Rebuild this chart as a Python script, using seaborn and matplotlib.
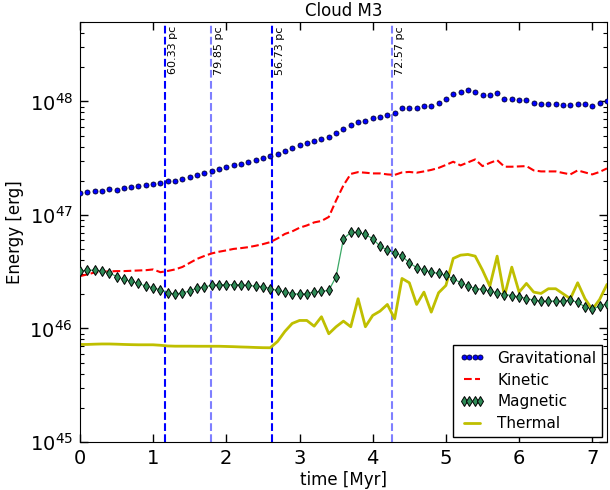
import numpy as np
import pandas as pd
import matplotlib
matplotlib.use("Agg")
import matplotlib.pyplot as plt
import seaborn as sns

# ---- data ----
time_myr = np.round(np.arange(73) * 0.1, 1)

grav_1e47 = [1.55, 1.59, 1.61, 1.64, 1.68, 1.67, 1.71, 1.76, 1.79, 1.85,
             1.88, 1.91, 1.97, 2.00, 2.06, 2.14, 2.23, 2.32, 2.42, 2.52,
             2.64, 2.75, 2.83, 2.92, 3.04, 3.17, 3.30, 3.46, 3.65, 3.91,
             4.10, 4.33, 4.51, 4.69, 4.82, 5.23, 5.67, 6.15, 6.63, 6.76,
             7.18, 7.33, 7.53, 7.95, 8.73, 8.80, 8.80, 9.17, 9.17, 9.66,
             10.41, 11.53, 12.00, 12.50, 12.07, 11.46, 11.46, 11.83, 10.56, 10.56,
             10.35, 10.20, 9.74, 9.54, 9.54, 9.41, 9.28, 9.28, 9.54, 9.41,
             9.17, 9.74, 10.10]

kin_1e46 = [2.89, 2.99, 3.11, 3.16, 3.18, 3.20, 3.20, 3.22, 3.24, 3.26,
            3.31, 3.13, 3.21, 3.31, 3.48, 3.78, 4.10, 4.35, 4.58, 4.74,
            4.87, 5.02, 5.10, 5.20, 5.35, 5.53, 5.76, 6.21, 6.80, 7.16,
            7.71, 8.08, 8.59, 8.85, 9.60, 13.42, 18.20, 22.97, 23.83, 23.54,
            23.21, 23.21, 22.75, 22.52, 23.68, 23.92, 23.54, 24.17, 24.92, 25.95,
            27.57, 29.42, 27.30, 29.01, 30.83, 26.92, 28.71, 30.39, 26.59, 26.59,
            26.75, 26.92, 24.67, 24.17, 24.17, 24.17, 23.44, 22.75, 24.67, 23.68,
            22.75, 23.92, 25.69]

mag_1e46 = [3.20, 3.26, 3.26, 3.20, 3.10, 2.86, 2.70, 2.60, 2.49, 2.36,
            2.28, 2.18, 2.06, 2.01, 2.06, 2.13, 2.27, 2.33, 2.39, 2.43,
            2.43, 2.43, 2.43, 2.39, 2.36, 2.33, 2.24, 2.16, 2.09, 2.03,
            2.00, 2.03, 2.09, 2.13, 2.16, 2.86, 6.17, 7.01, 7.01, 6.73,
            6.17, 5.31, 4.90, 4.65, 4.34, 3.79, 3.43, 3.26, 3.13, 3.05,
            2.93, 2.74, 2.53, 2.36, 2.24, 2.21, 2.13, 2.06, 1.99, 1.95,
            1.90, 1.83, 1.78, 1.74, 1.74, 1.74, 1.74, 1.78, 1.70, 1.55,
            1.47, 1.58, 1.64]

therm_1e45 = [7.23, 7.23, 7.27, 7.30, 7.30, 7.27, 7.23, 7.20, 7.18, 7.18,
              7.18, 7.11, 7.01, 6.98, 6.98, 6.98, 6.97, 6.97, 6.97, 6.97,
              6.94, 6.91, 6.87, 6.84, 6.80, 6.77, 6.76, 7.68, 9.41, 11.07,
              11.76, 11.76, 10.47, 12.68, 8.98, 10.35, 11.60, 10.35, 18.27, 10.35,
              13.02, 14.21, 16.27, 12.17, 27.57, 25.27, 16.27, 20.89, 13.92, 20.63,
              23.92, 41.38, 44.23, 44.87, 43.35, 32.64, 23.59, 43.35, 19.26, 34.68,
              20.89, 24.92, 20.89, 20.34, 22.38, 22.38, 20.22, 18.27, 25.27, 18.27,
              14.71, 18.01, 24.42]

vline_times = [1.16, 1.79, 2.62, 4.26]
vline_labels = ["60.33 pc", "79.85 pc", "56.73 pc", "72.57 pc"]
vline_alpha = [1.0, 0.5, 1.0, 0.5]

series_names = ["Gravitational", "Kinetic", "Magnetic", "Thermal"]

df = pd.DataFrame({
    "time": time_myr,
    "Gravitational": np.array(grav_1e47) * 1e47,
    "Kinetic": np.array(kin_1e46) * 1e46,
    "Magnetic": np.array(mag_1e46) * 1e46,
    "Thermal": np.array(therm_1e45) * 1e45,
})

# ---- style ----
sns.set_style("ticks", rc={
    "xtick.direction": "in", "ytick.direction": "in",
    "xtick.top": True, "ytick.right": True,
    "axes.edgecolor": "black", "axes.linewidth": 1.0,
    "xtick.color": "black", "ytick.color": "black",
    "text.color": "black", "axes.labelcolor": "black",
})
plt.rcParams["font.family"] = ["DejaVu Sans"]

fig, ax = plt.subplots(figsize=(6.1, 4.9), dpi=100)
fig.subplots_adjust(left=0.131, right=0.995, bottom=0.098, top=0.955)

# vertical markers
for t, lab, a in zip(vline_times, vline_labels, vline_alpha):
    ax.axvline(t, color="blue", alpha=a, linestyle="--", linewidth=1.5, zorder=1)

sns.lineplot(data=df, x="time", y="Gravitational", ax=ax, color="blue",
             marker="o", linestyle="none",
             label=series_names[0], zorder=3)
l_grav = ax.lines[-1]
sns.lineplot(data=df, x="time", y="Kinetic", ax=ax, color="red",
             linestyle="--", linewidth=1.5, label=series_names[1], zorder=2)
sns.lineplot(data=df, x="time", y="Magnetic", ax=ax, color="#3aa865",
             linewidth=0.9, marker="d",
             label=series_names[2], zorder=3)
l_mag = ax.lines[-1]
sns.lineplot(data=df, x="time", y="Thermal", ax=ax, color="#bfbf00",
             linewidth=2.0, label=series_names[3], zorder=2)

l_grav.set_markersize(3.6)
l_grav.set_markerfacecolor("blue")
l_grav.set_markeredgecolor("#000033")
l_grav.set_markeredgewidth(0.6)
l_mag.set_markersize(4.6)
l_mag.set_markerfacecolor("#2e8b57")
l_mag.set_markeredgecolor("black")
l_mag.set_markeredgewidth(0.7)

ax.set_yscale("log")
ax.set_xlim(0, 7.2)
ax.set_ylim(1e45, 5e48)

for t, lab in zip(vline_times, vline_labels):
    ax.text(t + 0.04, 4.6e48, lab, rotation=90, va="top", ha="left",
            fontsize=8, zorder=4)

ax.set_xticks(range(0, 8))
ax.tick_params(which="major", length=6, width=1, labelsize=14, pad=5)
ax.tick_params(which="minor", length=3, width=0.8)
ax.tick_params(axis="x", which="minor", bottom=False, top=False)

ax.set_xlabel("time [Myr]", fontsize=12, labelpad=2)
ax.set_ylabel("Energy [erg]", fontsize=12)
ax.set_title("Cloud M3", fontsize=12, pad=4)

leg = ax.legend(loc="lower right", numpoints=4, fontsize=11, frameon=True,
                fancybox=False, edgecolor="black", framealpha=1,
                borderaxespad=0.3, handlelength=1.7, labelspacing=0.45)
leg.get_frame().set_linewidth(1.0)

fig.savefig("out.png", dpi=100)
